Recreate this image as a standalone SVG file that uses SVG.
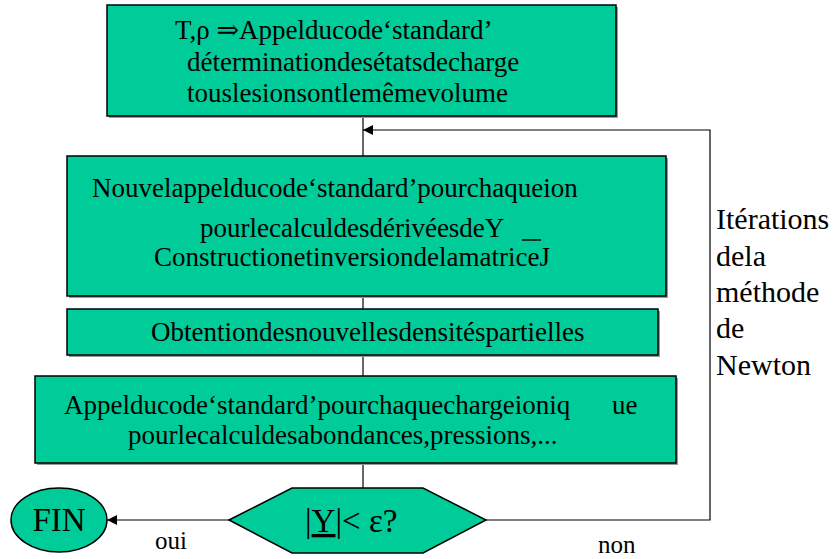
<svg xmlns="http://www.w3.org/2000/svg" width="840" height="559" viewBox="0 0 840 559">
<style>
.box{fill:#00CC99;stroke:#000;stroke-width:1.5}
.shadow{fill:#999}
text{font-family:"Liberation Serif","Times New Roman","DejaVu Serif",serif;fill:#000}
.t{font-size:27px}
.r{font-size:30px}
.s{font-size:25px}
.b{font-size:33px}
.line{stroke:#000;stroke-width:1.2;fill:none}
</style>
<defs>
<marker id="ah" viewBox="0 0 10 10" refX="10" refY="5" markerWidth="10" markerHeight="10" markerUnits="userSpaceOnUse" orient="auto">
<path d="M0,0 L10,5 L0,10 z" fill="#000"/>
</marker>
</defs>
<rect width="840" height="559" fill="#fff"/>
<g id="connectors">
<line class="line" x1="363" y1="116" x2="363" y2="156"/>
<line class="line" x1="363" y1="296" x2="363" y2="309"/>
<line class="line" x1="363" y1="355" x2="363" y2="376"/>
<line class="line" x1="363" y1="463" x2="363" y2="488"/>
<polyline class="line" points="486,520 710,520 710,130 363,130" marker-end="url(#ah)"/>
<line class="line" x1="229" y1="520" x2="107" y2="520" marker-end="url(#ah)"/>
<text class="s" x="155" y="549">oui</text>
<text class="s" x="598" y="553">non</text>
</g>
<g id="box1">
<rect class="shadow" x="109" y="7" width="509" height="111"/>
<rect class="box" x="107" y="5" width="509" height="111"/>
<text class="t" x="175" y="39">T,ρ ⇒Appelducode‘standard’</text>
<text class="t" x="187" y="71">déterminationdesétatsdecharge</text>
<text class="t" x="187" y="102">touslesionsontlemêmevolume</text>
</g>
<g id="box2">
<rect class="shadow" x="69" y="158" width="599" height="140"/>
<rect class="box" x="67" y="156" width="599" height="140"/>
<text class="t" x="92" y="197">Nouvelappelducode‘standard’pourchaqueion</text>
<text class="t" x="200" y="237">pourlecalculdesdérivéesdeY</text>
<line x1="522" y1="240" x2="541" y2="240" stroke="#000" stroke-width="1.5"/>
<text class="t" x="154" y="266">ConstructionetinversiondelamatriceJ</text>
</g>
<g id="box3">
<rect class="shadow" x="69" y="311" width="591" height="46"/>
<rect class="box" x="67" y="309" width="591" height="46"/>
<text class="t" x="151" y="341">Obtentiondesnouvellesdensitéspartielles</text>
</g>
<g id="box4">
<rect class="shadow" x="37" y="378" width="641" height="87"/>
<rect class="box" x="35" y="376" width="641" height="87"/>
<text class="t" x="64" y="414">Appelducode‘standard’pourchaquechargeioniq</text>
<text class="t" x="612" y="414">ue</text>
<text class="t" x="128" y="444">pourlecalculdesabondances,pressions,...</text>
</g>
<g id="test">
<polygon class="box" points="229,520 292,488 423,488 486,520 423,553 292,553"/>
<text class="b" x="305" y="532">|<tspan text-decoration="underline">Y</tspan>|&lt; ε?</text>
</g>
<g id="fin">
<ellipse class="box" cx="59" cy="520" rx="48" ry="32"/>
<text class="b" x="59" y="531" text-anchor="middle">FIN</text>
</g>
<g id="label">
<text class="r" x="716" y="229">Itérations</text>
<text class="r" x="716" y="266">dela</text>
<text class="r" x="716" y="302">méthode</text>
<text class="r" x="716" y="338">de</text>
<text class="r" x="716" y="375">Newton</text>
</g>
</svg>
